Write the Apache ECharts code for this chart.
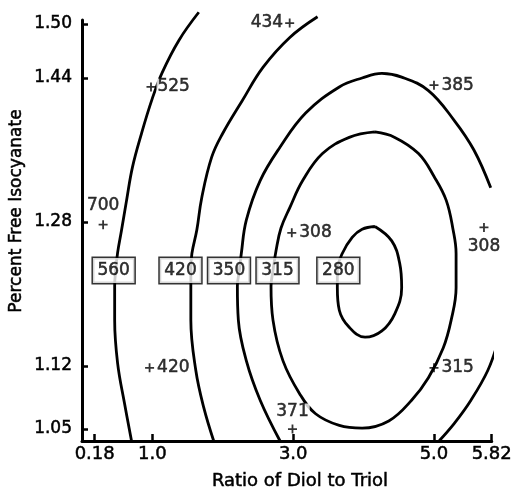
<!DOCTYPE html>
<html>
<head>
<meta charset="utf-8">
<script src="https://cdn.jsdelivr.net/npm/echarts@6/dist/echarts.min.js"></script>
<style>
html,body{margin:0;padding:0;background:#fff;}
#chart{width:515px;height:490px;}
</style>
</head>
<body>
<div id="chart"></div>
<script>
// ---- axis ticks ----
const xTicks = [0.18, 1.0, 3.0, 5.0, 5.82];
const xTickLabels = ['0.18', '1.0', '3.0', '5.0', '5.82'];
const yTicks = [1.05, 1.12, 1.28, 1.44, 1.50];
const yTickLabels = ['1.05', '1.12', '1.28', '1.44', '1.50'];

// ---- contour lines (ratio, % free isocyanate) ----
const contour560 = [
  [1.659, 1.513], [1.378, 1.482], [1.139, 1.446], [0.998, 1.417], [0.844, 1.378],
  [0.717, 1.341], [0.633, 1.304], [0.562, 1.271], [0.506, 1.246], [0.478, 1.226],
  [0.464, 1.209], [0.464, 1.171], [0.506, 1.123], [0.605, 1.078], [0.703, 1.037]
];
const contour420 = [
  [3.346, 1.508], [2.952, 1.485], [2.573, 1.452], [2.278, 1.415], [1.996, 1.378],
  [1.842, 1.352], [1.701, 1.307], [1.631, 1.271], [1.561, 1.245], [1.546, 1.226],
  [1.546, 1.171], [1.617, 1.115], [1.729, 1.074], [1.870, 1.037]
];
const contour350 = [
  [2.812, 1.037], [2.531, 1.082], [2.334, 1.126], [2.221, 1.171], [2.207, 1.209],
  [2.235, 1.226], [2.263, 1.245], [2.334, 1.282], [2.531, 1.326],
  [2.812, 1.363], [3.177, 1.401], [3.655, 1.430], [3.979, 1.440], [4.260, 1.445],
  [4.541, 1.441], [4.921, 1.426], [5.286, 1.393], [5.567, 1.360], [5.806, 1.318]
];
const contour350Lower = [
  [5.905, 1.146], [5.764, 1.115], [5.525, 1.082], [5.286, 1.056], [5.075, 1.037]
];
const contour315 = [
  [4.161, 1.380], [4.443, 1.374], [4.780, 1.356], [5.005, 1.330], [5.174, 1.304],
  [5.272, 1.271], [5.314, 1.245], [5.314, 1.207], [5.244, 1.171], [5.131, 1.140],
  [4.921, 1.107], [4.682, 1.082], [4.358, 1.059], [3.979, 1.051], [3.655, 1.054],
  [3.318, 1.067], [3.093, 1.089], [2.854, 1.126], [2.713, 1.171], [2.685, 1.209],
  [2.713, 1.226], [2.756, 1.248], [2.826, 1.273], [2.952, 1.296], [3.135, 1.326],
  [3.416, 1.356], [3.796, 1.374], [4.161, 1.380]
];
const contour280 = [
  [4.161, 1.275], [4.400, 1.259], [4.513, 1.234], [4.541, 1.207], [4.443, 1.178],
  [4.260, 1.159], [4.021, 1.152], [3.796, 1.163], [3.655, 1.182], [3.627, 1.207],
  [3.627, 1.226], [3.697, 1.245], [3.838, 1.263], [3.979, 1.272], [4.161, 1.275]
];

// ---- contour level labels ----
const contourLevels = ['560', '420', '350', '315', '280'];
const contourLabelX = [0.450, 1.399, 2.088, 2.777, 3.641];
const contourLabelY = [1.226, 1.226, 1.226, 1.226, 1.226];

// ---- experimental points ----
const pointX = [0.98, 2.95, 5.00, 0.30, 2.98, 5.71, 0.96, 5.00, 2.99];
const pointY = [1.430, 1.501, 1.432, 1.277, 1.268, 1.274, 1.118, 1.118, 1.050];
const pointValue = [525, 434, 385, 700, 308, 308, 420, 315, 371];

// ---- build options ----
const FONT = 'DejaVu Sans';
const TXT = {color: '#000', fontFamily: FONT, textBorderColor: '#000', textBorderWidth: 0.5};
const labelPlacement = [
  {position: 'right', distance: 1},
  {position: 'left', distance: 1},
  {position: 'right', distance: 2},
  {position: 'top', distance: 6},
  {position: 'right', distance: 2},
  {position: 'bottom', distance: 6},
  {position: 'right', distance: 2},
  {position: 'right', distance: 2},
  {position: 'top', distance: 4}
];

function lineSeries(data) {
  return {
    type: 'line', data: data, showSymbol: false, symbol: 'none',
    smooth: 0.4, clip: false, z: 2, silent: true,
    lineStyle: {color: '#000', width: 2.8}
  };
}

const plusPath = 'path://M4,0 L6,0 L6,4 L10,4 L10,6 L6,6 L6,10 L4,10 L4,6 L0,6 L0,4 L4,4 Z';

const series = [
  lineSeries(contour560), lineSeries(contour420), lineSeries(contour350),
  lineSeries(contour350Lower), lineSeries(contour315), lineSeries(contour280),
  {
    type: 'scatter', z: 4, symbolSize: 1, itemStyle: {color: 'rgba(0,0,0,0)'},
    data: contourLevels.map((lv, i) => ({value: [contourLabelX[i], contourLabelY[i], lv]})),
    label: Object.assign({
      show: true, position: 'inside', formatter: p => p.value[2], fontSize: 17,
      backgroundColor: '#fff', borderColor: '#000', borderWidth: 1.5,
      padding: [4, 4.5, 4, 4.5]
    }, TXT)
  },
  {
    type: 'scatter', z: 5, symbol: plusPath, symbolSize: 9,
    itemStyle: {color: '#000'},
    data: pointValue.map((v, i) => ({
      value: [pointX[i], pointY[i], v],
      label: labelPlacement[i]
    })),
    label: Object.assign({
      show: true, formatter: p => String(p.value[2]), fontSize: 17,
      backgroundColor: '#fff', padding: [0, 1]
    }, TXT)
  }
];

function lookup(ticks, labels, v) {
  for (let i = 0; i < ticks.length; i++) if (Math.abs(ticks[i] - v) < 1e-6) return labels[i];
  return '';
}

const option = {
  animation: false,
  backgroundColor: '#fff',
  grid: {left: 82, right: 19, top: 20, bottom: 49, containLabel: false},
  xAxis: {
    type: 'value', min: 0, max: 5.82,
    splitLine: {show: false},
    axisLine: {show: true, onZero: false, lineStyle: {color: '#000', width: 3}},
    axisTick: {show: true, inside: true, length: 7, customValues: xTicks, lineStyle: {color: '#000', width: 2.5}},
    axisLabel: Object.assign({
      customValues: xTicks, formatter: v => lookup(xTicks, xTickLabels, v),
      fontSize: 18, margin: 4
    }, TXT)
  },
  yAxis: {
    type: 'value', min: 1.0367, max: 1.5044,
    splitLine: {show: false},
    axisLine: {show: true, onZero: false, lineStyle: {color: '#000', width: 3}},
    axisTick: {show: true, inside: true, length: 6, customValues: yTicks, lineStyle: {color: '#000', width: 2.5}},
    axisLabel: Object.assign({
      customValues: yTicks, formatter: v => lookup(yTicks, yTickLabels, v),
      fontSize: 17, margin: 10
    }, TXT)
  },
  graphic: [
    {
      type: 'text', x: 17, y: 211, rotation: Math.PI / 2, z: 10,
      style: {text: 'Percent Free Isocyanate', fill: '#000', stroke: '#000', lineWidth: 0.5,
        fontFamily: FONT, fontSize: 17,
        align: 'center', verticalAlign: 'middle', textAlign: 'center', textVerticalAlign: 'middle'}
    },
    {
      type: 'text', x: 300, y: 481, z: 10,
      style: {text: 'Ratio of Diol to Triol', fill: '#000', stroke: '#000', lineWidth: 0.5,
        fontFamily: FONT, fontSize: 18,
        align: 'center', verticalAlign: 'middle', textAlign: 'center', textVerticalAlign: 'middle'}
    }
  ],
  series: series
};

const chart = echarts.init(document.getElementById('chart'), null, {renderer: 'canvas'});
chart.setOption(option);
</script>
</body>
</html>
